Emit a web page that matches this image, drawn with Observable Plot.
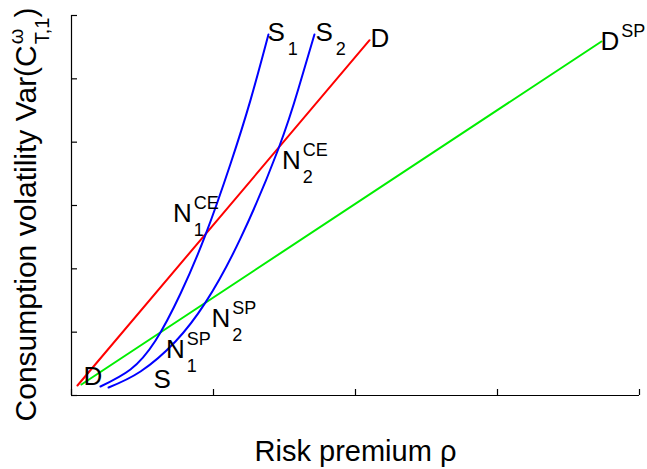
<!DOCTYPE html>
<html>
<head>
<meta charset="utf-8">
<script src="https://cdn.jsdelivr.net/npm/d3@7"></script>
<script src="https://cdn.jsdelivr.net/npm/@observablehq/plot@0.6"></script>
<style>
  body { margin: 0; background: #fff; }
</style>
</head>
<body>
<div id="chart"></div>
<script>
// ---- data ----
const xTicks = [0, 1, 2, 3, 4];
const yTicks = [0, 1, 2, 3, 4, 5, 6];

// supply curve S1 (blue)
const s1X = [0.204, 0.415, 0.592, 0.768, 0.944, 1.12, 1.26, 1.387];
const s1Y = [0.142, 0.41, 0.868, 1.61, 2.54, 3.66, 4.66, 5.70];
// supply curve S2 (blue)
const s2X = [0.261, 0.486, 0.732, 0.944, 1.19, 1.458, 1.599, 1.711];
const s2Y = [0.126, 0.379, 0.853, 1.47, 2.48, 3.90, 4.85, 5.70];
// demand D (red)
const dX = [0.042, 2.099];
const dY = [0.158, 5.61];
// demand D^SP (green)
const spX = [0.07, 3.732];
const spY = [0.174, 5.59];

// curve / point labels
const labelText = ["S", "S", "D", "D", "N", "N", "N", "N", "S", "D"];
const labelSub  = ["1", "2", "", "", "1", "2", "1", "2", "", ""];
const labelSup  = ["", "", "", "SP", "CE", "CE", "SP", "SP", "", ""];
const labelX    = [1.380, 1.718, 2.106, 3.725, 0.714, 1.482, 0.665, 0.986, 0.578, 0.085];
const labelY    = [5.605, 5.605, 5.495, 5.463, 2.732, 3.569, 0.600, 1.074, 0.126, 0.158];

const xLabel = "Risk premium ρ";
const yLabelBase = "Consumption volatility Var(C";
const yLabelSup = "ω";
const yLabelSub = "T,1";

const idx = a => a.map((_, i) => i);

const plot = Plot.plot({
  width: 647,
  height: 469,
  marginLeft: 71,
  marginRight: 8,
  marginTop: 15,
  marginBottom: 74,
  x: { domain: [0, 4], axis: null },
  y: { domain: [0, 6], axis: null },
  style: { fontFamily: "'Liberation Sans', Arial, sans-serif", background: "#fff", color: "#000" },
  marks: [
    // axes
    Plot.ruleX([0], { stroke: "#000", strokeWidth: 1.2 }),
    Plot.ruleY([0], { stroke: "#000", strokeWidth: 1.2 }),
    Plot.ruleX(xTicks, { x: d => d, y1: 0, y2: 0, insetBottom: 6, stroke: "#000", strokeWidth: 1.2 }),
    Plot.ruleY(yTicks, { y: d => d, x1: 0, x2: 0, insetLeft: 6, stroke: "#000", strokeWidth: 1.2 }),
    // curves
    Plot.line(idx(dX), { x: dX, y: dY, stroke: "#ff0000", strokeWidth: 2 }),
    Plot.line(idx(spX), { x: spX, y: spY, stroke: "#00ee00", strokeWidth: 2 }),
    Plot.line(idx(s1X), { x: s1X, y: s1Y, stroke: "#0000ff", strokeWidth: 2, curve: "natural" }),
    Plot.line(idx(s2X), { x: s2X, y: s2Y, stroke: "#0000ff", strokeWidth: 2, curve: "natural" }),
    // labels
    Plot.text(idx(labelText), {
      x: labelX, y: labelY, text: labelText,
      textAnchor: "start", lineAnchor: "bottom", fontSize: 26, fill: "#000",
      ariaDescription: "curve-labels"
    }),
    Plot.text([xLabel], {
      frameAnchor: "bottom", dy: 65, textAnchor: "middle", lineAnchor: "bottom", fontSize: 29, fill: "#000",
      ariaDescription: "x-label"
    }),
    Plot.text([yLabelBase], {
      frameAnchor: "left", dx: -36, dy: 9, rotate: -90, textAnchor: "middle", lineAnchor: "bottom",
      fontSize: 30, fill: "#000",
      ariaDescription: "y-label"
    })
  ]
});

document.getElementById("chart").append(plot);

// rich text: subscripts / superscripts as real tspans
const NS = "http://www.w3.org/2000/svg";
function addT(el, txt, attrs) {
  const t = document.createElementNS(NS, "tspan");
  t.textContent = txt;
  for (const k in attrs) t.setAttribute(k, attrs[k]);
  el.appendChild(t);
  return t;
}
d3.select(plot).selectAll('g[aria-description="curve-labels"] text').each(function (d, j) {
  const i = typeof d === "number" ? d : j;
  const sub = labelSub[i], sup = labelSup[i];
  if (sup) {
    const s = addT(this, sup, { dx: 2, dy: -13, "font-size": 18 });
    if (sub) {
      const w = s.getComputedTextLength();
      addT(this, sub, { dx: -w, dy: 27, "font-size": 18 });
    }
  } else if (sub) {
    addT(this, sub, { dx: 3, dy: 14, "font-size": 18 });
  }
});
d3.select(plot).selectAll('g[aria-description="y-label"] text').each(function () {
  const s = addT(this, yLabelSup, { dx: 1, dy: -13, "font-size": 20 });
  const w = s.getComputedTextLength();
  addT(this, yLabelSub, { dx: -w, dy: 26, "font-size": 20 });
  addT(this, ")", { dy: -13 });
});
</script>
</body>
</html>
